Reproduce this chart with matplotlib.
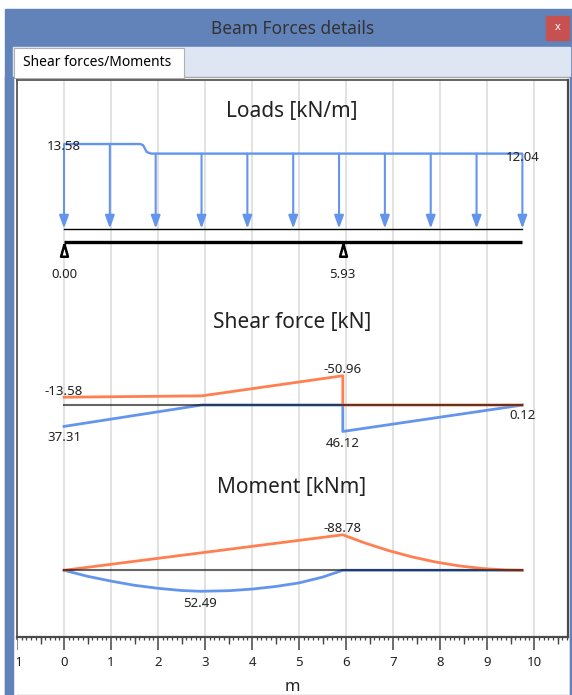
import matplotlib
matplotlib.use('Agg')
import matplotlib.pyplot as plt
from matplotlib.patches import Rectangle
import numpy as np

plt.rcParams['font.family'] = ['Noto Sans', 'DejaVu Sans']

# ---- data ----
beam_length = 9.75
support_x = [0.0, 5.93]
support_labels = ['0.00', '5.93']

# distributed load [kN/m]
load_x = [0.0, 1.62, 1.68, 1.76, 1.85, 9.75]
load_q = [13.58, 13.58, 13.4, 12.3, 12.04, 12.04]
arrow_x = [0.0, 0.975, 1.95, 2.925, 3.9, 4.875, 5.85, 6.825, 7.8, 8.775, 9.75]

# shear force envelope [kN]
shear_min_x = [0.0, 2.93, 5.93, 5.93, 9.75]
shear_min = [-13.58, -15.9, -50.96, 0.0, 0.0]
shear_max_x = [0.0, 2.93, 5.93, 5.93, 9.75]
shear_max = [37.31, 0.0, 0.0, 46.12, 0.12]

# moment envelope [kNm]
moment_min_x = [0.0, 5.93, 6.4, 6.9, 7.4, 7.9, 8.4, 8.9, 9.4, 9.75]
moment_min = [0.0, -88.78, -68.3, -49.4, -33.6, -20.8, -11.1, -4.4, -0.7, 0.0]
moment_max_x = [0.0, 0.5, 1.0, 1.5, 2.0, 2.5, 2.9, 3.5, 4.0, 4.5, 5.0, 5.5, 5.93, 9.75]
moment_max = [0.0, 15.0, 27.0, 37.5, 45.0, 50.5, 52.49, 51.0, 47.0, 40.5, 31.5, 17.0, 0.0, 0.0]

x_ticks = list(range(-1, 11))

ORANGE = '#FF7F50'
BLUE = '#6495ED'
TXT = '#222222'
WINDOW = '#6183B9'

W, H = 572, 695
fig = plt.figure(figsize=(W / 100, H / 100), dpi=100)


def box(x0, y0, x1, y1, z=0, **kw):
    # rectangle in screen pixels (origin top left)
    r = Rectangle((x0 / W, 1 - y1 / H), (x1 - x0) / W, (y1 - y0) / H,
                  transform=fig.transFigure, zorder=z, **kw)
    fig.add_artist(r)


# window chrome
box(5, 9, 572, 695, z=-3, color=WINDOW)
box(546, 16, 569, 40, z=-2, color='#C75050')
fig.text(557.5 / W, 1 - 28 / H, 'x', color='white', fontsize=8, fontweight='bold',
         ha='center', va='center')
fig.text(293 / W, 1 - 28.5 / H, 'Beam Forces details', color='#333333',
         fontsize=12.5, ha='center', va='center')
box(13, 47, 570, 78, z=-2, color='#DDE6F2')
box(13, 77, 570, 695, z=-1, facecolor='white', edgecolor='#A8A8A8', linewidth=1)
box(14, 48, 184, 78, z=-1, facecolor='white', edgecolor='#B0B0B0', linewidth=0.8)
fig.text(23 / W, 1 - 62.5 / H, 'Shear forces/Moments', color='black', fontsize=10,
         ha='left', va='center')

# frame with the metre scale
FL, FT, FR, FB = 17, 80, 568, 637
rect = [FL / W, 1 - FB / H, (FR - FL) / W, (FB - FT) / H]
frame = fig.add_axes(rect, zorder=1)
frame.set_xlim(-1, 10.72)
frame.set_ylim(0, 1)
frame.set_yticks([])
frame.set_xticks(x_ticks)
frame.set_xticklabels([str(t) for t in x_ticks])
frame.set_xticks(np.arange(-1, 10.75, 0.1), minor=True)
frame.tick_params(axis='x', which='major', length=9, width=1.1, color='#444444',
                  labelsize=9.5, labelcolor=TXT, pad=5)
frame.tick_params(axis='x', which='minor', length=2.5, width=0.9, color='#444444')
frame.grid(axis='x', which='major', color='#E2E2E2', linewidth=1.4)
frame.set_axisbelow(True)
for s in frame.spines.values():
    s.set_color('#4A4A4A')
    s.set_linewidth(1.2)
frame.spines['bottom'].set_linewidth(1.6)
frame.spines['right'].set_linewidth(1.6)
half = frame.secondary_xaxis('bottom')
half.set_xticks(np.arange(-0.5, 10.6, 1.0))
half.set_xticklabels([])
half.tick_params(length=5, width=1, color='#444444')
half.spines['bottom'].set_visible(False)
fig.text(292 / W, 1 - 687 / H, 'm', color=TXT, fontsize=12, ha='center', va='center')

# borders on top so the cut minus sign of -1 is hidden like in the window
box(13, 640, 15.5, 695, z=5, color='white')
box(5, 77, 13, 695, z=5, color=WINDOW)
box(570, 77, 572, 695, z=5, color=WINDOW)


def panel(zero_px, scale, down=False):
    ax = fig.add_axes(rect, sharex=frame, zorder=2)
    ax.set_facecolor('none')
    ax.axis('off')
    if down:
        ax.set_ylim((FB - zero_px) / scale, (FT - zero_px) / scale)
    else:
        ax.set_ylim((zero_px - FB) / scale, (zero_px - FT) / scale)
    return ax


def label(ax, x, y, s, dy):
    ax.annotate(s, (x, y), xytext=(0, dy), textcoords='offset pixels', ha='center',
                va='baseline', fontsize=9.5, color=TXT, annotation_clip=False, zorder=6)


def title(py, s):
    fig.text(292 / W, 1 - py / H, s, color=TXT, fontsize=15, ha='center', va='baseline')


# ---- loads ----
ax1 = panel(228.5, 6.22)
title(117, 'Loads [kN/m]')
ax1.plot(load_x, load_q, color=BLUE, lw=1.7, solid_capstyle='butt')
arrow_q = np.interp(arrow_x, load_x, load_q)
for xa, qa in zip(arrow_x, arrow_q):
    ax1.annotate('', xy=(xa, 0), xytext=(xa, qa),
                 arrowprops=dict(arrowstyle='-|>,head_length=0.55,head_width=0.2',
                                 color=BLUE, lw=1.5, shrinkA=0, shrinkB=0,
                                 mutation_scale=14))
ax1.plot([0, beam_length], [0, 0], color='black', lw=1)
ax1.plot([0, beam_length], [-2.17, -2.17], color='black', lw=2.4, solid_capstyle='butt')
tri = [(0, 1), (-0.55, -1), (0.55, -1), (0, 1)]
ax1.plot(support_x, [-3.46] * len(support_x), ls='none', marker=tri, ms=9,
         mfc='white', mec='black', mew=1.8)
label(ax1, load_x[0], load_q[0], '13.58', -6.3)
label(ax1, load_x[-1], load_q[-1], '12.04', -7)
for xs, s in zip(support_x, support_labels):
    label(ax1, xs, 0, s, -50)

# ---- shear ----
ax2 = panel(405, 0.574, down=True)
title(328, 'Shear force [kN]')
ax2.plot(shear_max_x, shear_max, color=BLUE, lw=2)
ax2.plot(shear_min_x, shear_min, color=ORANGE, lw=2)
ax2.plot([0, beam_length], [0, 0], color='black', lw=1.5, alpha=0.6)
label(ax2, 0, shear_min[0], '-13.58', 2.4)
label(ax2, 0, shear_max[0], '37.31', -15)
label(ax2, 5.93, shear_min[2], '-50.96', 2.4)
label(ax2, 5.93, shear_max[3], '46.12', -15.4)
label(ax2, beam_length, shear_max[-1], '0.12', -14)

# ---- moment ----
ax3 = panel(570.3, 0.4, down=True)
title(493, 'Moment [kNm]')
ax3.plot(moment_max_x, moment_max, color=BLUE, lw=2)
ax3.plot(moment_min_x, moment_min, color=ORANGE, lw=2)
ax3.plot([0, beam_length], [0, 0], color='black', lw=1.5, alpha=0.6)
label(ax3, 5.93, moment_min[1], '-88.78', 2.4)
label(ax3, 2.9, moment_max[6], '52.49', -16)

fig.savefig('out.png', dpi=100)
